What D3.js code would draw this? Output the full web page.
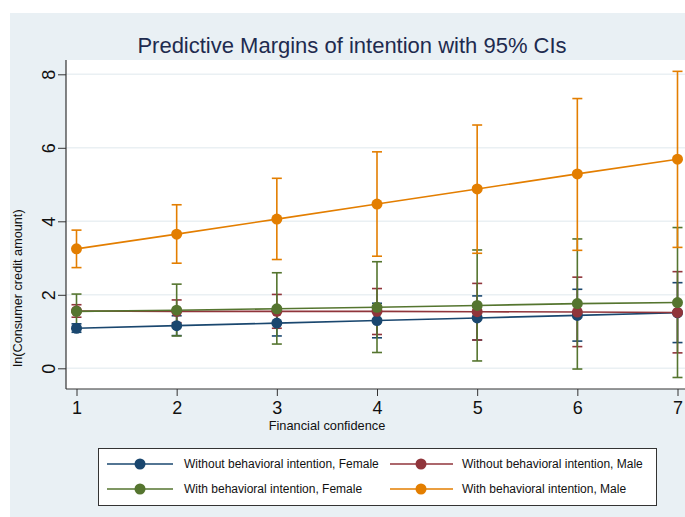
<!DOCTYPE html>
<html>
<head>
<meta charset="utf-8">
<script src="https://cdn.jsdelivr.net/npm/d3@7"></script>
<style>
  html, body { margin: 0; padding: 0; background: #ffffff; }
  svg { display: block; font-family: "Liberation Sans", Arial, Helvetica, sans-serif; }
</style>
</head>
<body>
<svg id="chart" width="685" height="517"></svg>
<script>
// ---- data ----
const xValues = [1, 2, 3, 4, 5, 6, 7];
const xTicks = [1, 2, 3, 4, 5, 6, 7];
const yTicks = [0, 2, 4, 6, 8];
const seriesNames = [
  "Without behavioral intention, Female",
  "Without behavioral intention, Male",
  "With behavioral intention, Female",
  "With behavioral intention, Male"
];
const seriesColors = ["#1a476f", "#90353b", "#55752f", "#e37e00"];
const withoutFemale = [1.09, 1.16, 1.23, 1.30, 1.37, 1.44, 1.51];
const withoutFemaleLo = [0.98, 0.89, 0.88, 0.83, 0.77, 0.74, 0.70];
const withoutFemaleHi = [1.21, 1.43, 1.58, 1.77, 1.97, 2.15, 2.33];
const withoutMale = [1.56, 1.55, 1.55, 1.55, 1.54, 1.53, 1.52];
const withoutMaleLo = [1.39, 1.24, 1.09, 0.92, 0.77, 0.59, 0.42];
const withoutMaleHi = [1.73, 1.86, 2.01, 2.17, 2.31, 2.48, 2.63];
const withFemale = [1.55, 1.58, 1.62, 1.66, 1.71, 1.76, 1.79];
const withFemaleLo = [1.08, 0.88, 0.66, 0.43, 0.20, -0.02, -0.25];
const withFemaleHi = [2.02, 2.29, 2.60, 2.90, 3.22, 3.52, 3.83];
const withMale = [3.25, 3.65, 4.06, 4.47, 4.88, 5.29, 5.69];
const withMaleLo = [2.74, 2.86, 2.96, 3.05, 3.13, 3.21, 3.29];
const withMaleHi = [3.76, 4.45, 5.17, 5.89, 6.62, 7.34, 8.08];

const series = [
  { name: seriesNames[0], color: seriesColors[0], mean: withoutFemale, lo: withoutFemaleLo, hi: withoutFemaleHi },
  { name: seriesNames[1], color: seriesColors[1], mean: withoutMale, lo: withoutMaleLo, hi: withoutMaleHi },
  { name: seriesNames[2], color: seriesColors[2], mean: withFemale, lo: withFemaleLo, hi: withFemaleHi },
  { name: seriesNames[3], color: seriesColors[3], mean: withMale, lo: withMaleLo, hi: withMaleHi }
];

// ---- layout ----
const svg = d3.select("#chart");
const W = 685, H = 517;
const plot = { left: 66, top: 60, right: 685, bottom: 389 };

const x = d3.scaleLinear().domain([1, 7]).range([76.5, 677.5]);
const y = d3.scaleLinear().domain([0, 8]).range([368.3, 74.3]);

// background regions
svg.append("rect").attr("x", 0).attr("y", 0).attr("width", W).attr("height", H).attr("fill", "#ffffff");
svg.append("rect").attr("x", 10).attr("y", 13).attr("width", W - 10).attr("height", H - 13).attr("fill", "#e9f0f4");
svg.append("rect").attr("x", plot.left).attr("y", plot.top)
  .attr("width", plot.right - plot.left).attr("height", plot.bottom - plot.top).attr("fill", "#ffffff");

// title
svg.append("text").attr("x", 352).attr("y", 53).attr("text-anchor", "middle")
  .attr("font-size", 22).attr("fill", "#1e2b4f")
  .text("Predictive Margins of intention with 95% CIs");

// grid lines
svg.append("g").selectAll("line").data(yTicks).join("line")
  .attr("x1", plot.left).attr("x2", plot.right)
  .attr("y1", d => y(d)).attr("y2", d => y(d))
  .attr("stroke", "#eaf0f3").attr("stroke-width", 1.5);

// y axis
const yAxis = d3.axisLeft(y).tickValues(yTicks).tickSize(8).tickPadding(6).tickFormat(d3.format("d"));
const gy = svg.append("g").attr("transform", `translate(${plot.left},0)`).call(yAxis);
gy.select(".domain").remove();
gy.selectAll(".tick line").attr("stroke", "#333");
gy.selectAll(".tick text")
  .attr("font-size", 18).attr("fill", "#111")
  .attr("font-family", "Liberation Sans, Arial, sans-serif")
  .attr("x", 0).attr("dy", 0)
  .attr("text-anchor", "middle")
  .attr("transform", "translate(-17,0) rotate(-90)")
  .attr("dominant-baseline", "central")
  .attr("y", 0);
svg.append("line").attr("x1", plot.left).attr("x2", plot.left)
  .attr("y1", plot.top).attr("y2", plot.bottom).attr("stroke", "#333").attr("stroke-width", 1.2);

// x axis
const xAxis = d3.axisBottom(x).tickValues(xTicks).tickSize(7).tickPadding(5).tickFormat(d3.format("d"));
const gx = svg.append("g").attr("transform", `translate(0,${plot.bottom})`).call(xAxis);
gx.select(".domain").remove();
gx.selectAll(".tick line").attr("stroke", "#333");
gx.selectAll(".tick text").attr("font-size", 18).attr("fill", "#111")
  .attr("font-family", "Liberation Sans, Arial, sans-serif");
svg.append("line").attr("x1", plot.left).attr("x2", plot.right)
  .attr("y1", plot.bottom).attr("y2", plot.bottom).attr("stroke", "#333").attr("stroke-width", 1.2);

// axis titles
svg.append("text").attr("x", 327).attr("y", 430).attr("text-anchor", "middle")
  .attr("font-size", 12.8).attr("fill", "#111").text("Financial confidence");
svg.append("text").attr("transform", "translate(22,288) rotate(-90)").attr("text-anchor", "middle")
  .attr("font-size", 12.7).attr("fill", "#111").text("ln(Consumer credit amount)");

// error bars
const capHalf = 5;
series.forEach(s => {
  const g = svg.append("g");
  const idx = d3.range(xValues.length);
  g.selectAll("line.v").data(idx).join("line").attr("class", "v")
    .attr("x1", i => x(xValues[i])).attr("x2", i => x(xValues[i]))
    .attr("y1", i => y(s.lo[i])).attr("y2", i => y(s.hi[i]))
    .attr("stroke", s.color).attr("stroke-width", 1.6);
  g.selectAll("line.ch").data(idx).join("line").attr("class", "ch")
    .attr("x1", i => x(xValues[i]) - capHalf).attr("x2", i => x(xValues[i]) + capHalf)
    .attr("y1", i => y(s.hi[i])).attr("y2", i => y(s.hi[i]))
    .attr("stroke", s.color).attr("stroke-width", 1.6);
  g.selectAll("line.cl").data(idx).join("line").attr("class", "cl")
    .attr("x1", i => x(xValues[i]) - capHalf).attr("x2", i => x(xValues[i]) + capHalf)
    .attr("y1", i => y(s.lo[i])).attr("y2", i => y(s.lo[i]))
    .attr("stroke", s.color).attr("stroke-width", 1.6);
});

// lines + markers
const line = d3.line().x((d, i) => x(xValues[i])).y(d => y(d));
series.forEach(s => {
  svg.append("path").datum(s.mean).attr("d", line)
    .attr("fill", "none").attr("stroke", s.color).attr("stroke-width", 1.6);
  svg.append("g").selectAll("circle").data(s.mean).join("circle")
    .attr("cx", (d, i) => x(xValues[i])).attr("cy", d => y(d)).attr("r", 5.5)
    .attr("fill", s.color);
});

// legend
const leg = svg.append("g");
leg.append("rect").attr("x", 98.5).attr("y", 448.5).attr("width", 558).attr("height", 57)
  .attr("fill", "#ffffff").attr("stroke", "#333").attr("stroke-width", 1);
const legPos = [
  { lx1: 107, lx2: 173, mx: 140, tx: 184, y: 464 },
  { lx1: 390, lx2: 453, mx: 421, tx: 462, y: 464 },
  { lx1: 107, lx2: 173, mx: 140, tx: 184, y: 489 },
  { lx1: 390, lx2: 453, mx: 421, tx: 462, y: 489 }
];
series.forEach((s, i) => {
  const p = legPos[i];
  leg.append("line").attr("x1", p.lx1).attr("x2", p.lx2).attr("y1", p.y).attr("y2", p.y)
    .attr("stroke", s.color).attr("stroke-width", 1.6);
  leg.append("circle").attr("cx", p.mx).attr("cy", p.y).attr("r", 5.5).attr("fill", s.color);
  leg.append("text").attr("x", p.tx).attr("y", p.y).attr("dy", "0.35em")
    .attr("font-size", 12).attr("fill", "#111").text(s.name);
});
</script>
</body>
</html>
